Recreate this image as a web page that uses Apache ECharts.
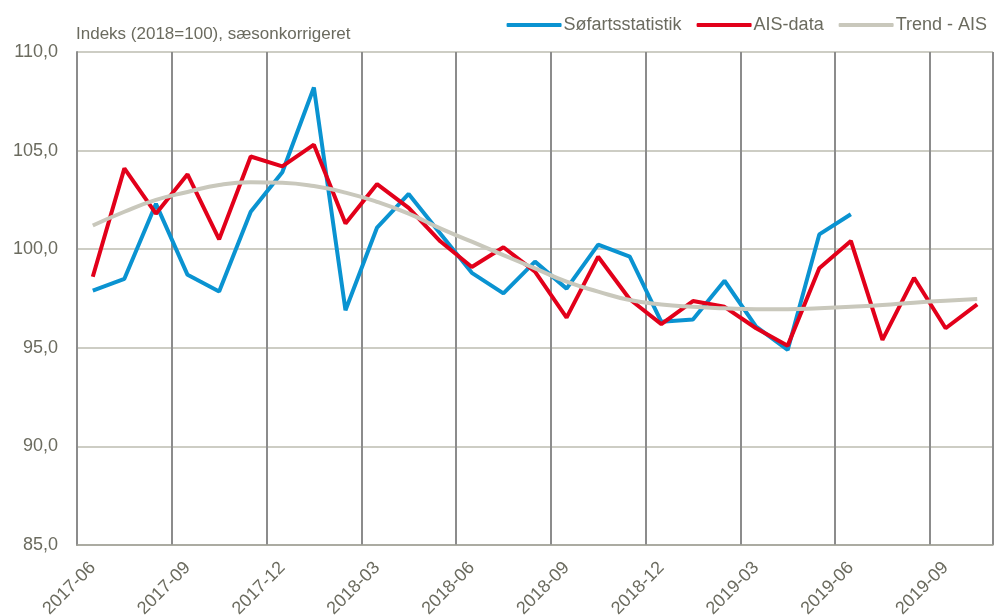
<!DOCTYPE html>
<html>
<head>
<meta charset="utf-8">
<script src="https://cdn.jsdelivr.net/npm/echarts@6/dist/echarts.min.js"></script>
<style>
  html, body { margin: 0; padding: 0; background: #fff; }
  #chart { width: 996px; height: 616px; }
</style>
</head>
<body>
<div id="chart"></div>
<script>
const months = [
  '2017-06', '2017-07', '2017-08', '2017-09', '2017-10', '2017-11', '2017-12',
  '2018-01', '2018-02', '2018-03', '2018-04', '2018-05', '2018-06', '2018-07',
  '2018-08', '2018-09', '2018-10', '2018-11', '2018-12', '2019-01', '2019-02',
  '2019-03', '2019-04', '2019-05', '2019-06', '2019-07', '2019-08', '2019-09', '2019-10'
];
const sofart = [
  97.9, 98.5, 102.3, 98.7, 97.85, 101.9, 103.9, 108.2, 96.9, 101.1,
  102.8, 100.8, 98.8, 97.76, 99.37, 98.0, 100.23, 99.62, 96.32, 96.44,
  98.4, 96.07, 94.89, 100.75, 101.77, null, null, null, null
];
const aisData = [
  98.6, 104.1, 101.8, 103.8, 100.5, 104.7, 104.2, 105.3, 101.3, 103.3,
  102.1, 100.4, 99.1, 100.1, 98.86, 96.53, 99.62, 97.46, 96.2, 97.37,
  97.08, 95.99, 95.11, 99.03, 100.42, 95.4, 98.55, 95.99, 97.2
];
const trendAis = [
  101.2, 101.9, 102.5, 102.9, 103.26, 103.4, 103.37, 103.2, 102.87, 102.4,
  101.8, 101.06, 100.38, 99.7, 99.03, 98.35, 97.85, 97.42, 97.2, 97.08,
  97.0, 96.95, 96.95, 97.0, 97.08, 97.17, 97.29, 97.39, 97.47
];

const font = '"Liberation Sans", Arial, sans-serif';
const textColor = '#6b6b5f';

const chart = echarts.init(document.getElementById('chart'));
chart.setOption({
  animation: false,
  textStyle: { fontFamily: font },
  title: {
    text: 'Indeks (2018=100), sæsonkorrigeret',
    left: 71, top: 21,
    textStyle: { fontFamily: font, fontSize: 17, fontWeight: 'normal', color: textColor }
  },
  legend: {
    right: 4, top: 11,
    icon: 'roundRect',
    itemWidth: 55, itemHeight: 4, itemGap: 15,
    textStyle: { fontFamily: font, fontSize: 18, color: textColor, padding: [0, 0, 0, -3] },
    data: ['Søfartsstatistik', 'AIS-data', 'Trend - AIS']
  },
  grid: { left: 77, right: 3, top: 52, bottom: 71, containLabel: false, outerBoundsMode: 'none' },
  xAxis: {
    type: 'category',
    data: months,
    boundaryGap: true,
    axisLine: { lineStyle: { color: '#a0a096', width: 1.5 } },
    axisTick: { show: false },
    axisLabel: {
      interval: 2, rotate: 45, margin: 20,
      fontFamily: font, fontSize: 18, color: textColor
    },
    splitLine: { show: true, interval: 2, lineStyle: { color: '#8c8c8c', width: 2 } }
  },
  yAxis: {
    type: 'value',
    min: 85, max: 110, interval: 5,
    axisLine: { show: true, lineStyle: { color: '#8c8c8c', width: 2 } },
    axisTick: { show: false },
    axisLabel: {
      margin: 19, fontFamily: font, fontSize: 18, color: textColor,
      formatter: v => v.toFixed(1).replace('.', ',')
    },
    splitLine: { lineStyle: { color: '#bdbdb1', width: 1.5 } }
  },
  series: [
    {
      name: 'Søfartsstatistik', type: 'line', data: sofart,
      showSymbol: false, symbol: 'none',
      itemStyle: { color: '#0a93d1' },
      lineStyle: { color: '#0a93d1', width: 4 }
    },
    {
      name: 'AIS-data', type: 'line', data: aisData,
      showSymbol: false, symbol: 'none',
      itemStyle: { color: '#e2001a' },
      lineStyle: { color: '#e2001a', width: 4 }
    },
    {
      name: 'Trend - AIS', type: 'line', data: trendAis,
      showSymbol: false, symbol: 'none', smooth: true,
      itemStyle: { color: '#c9c8bc' },
      lineStyle: { color: '#c9c8bc', width: 4 }
    }
  ]
});
</script>
</body>
</html>
